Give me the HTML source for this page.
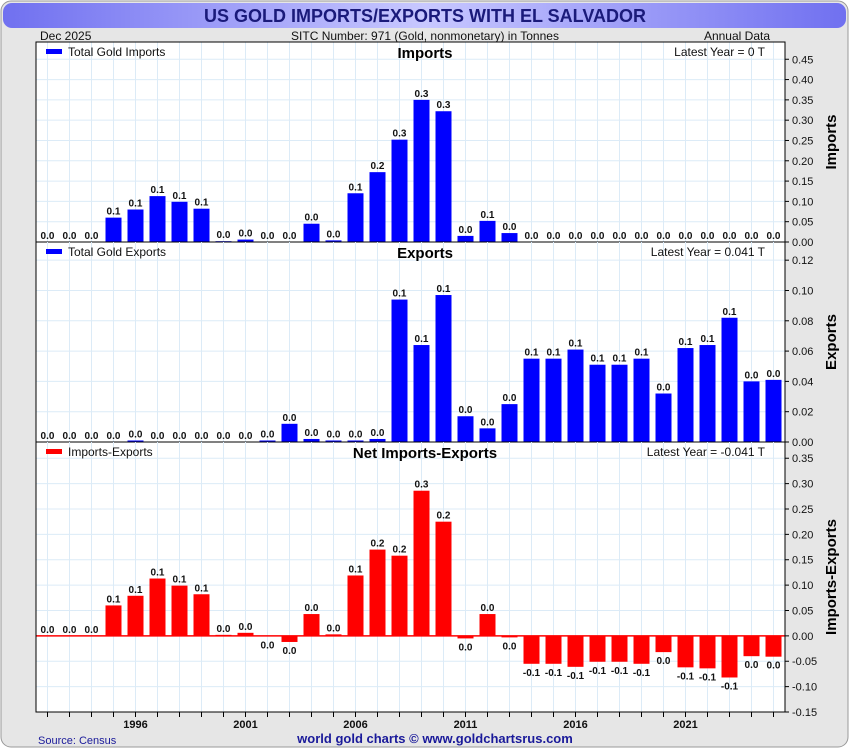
<!DOCTYPE html>
<html><head><meta charset="utf-8"><style>
body{margin:0;width:850px;height:750px;overflow:hidden;background:#fff;font-family:"Liberation Sans",sans-serif}
svg{display:block}
</style></head><body>
<svg id="chart" width="850" height="750" xmlns="http://www.w3.org/2000/svg">
<defs><linearGradient id="tg" x1="0" y1="0" x2="1" y2="0">
<stop offset="0" stop-color="#7070f0"/><stop offset="0.5" stop-color="#c8c8ff"/><stop offset="1" stop-color="#7070f0"/></linearGradient></defs>
<rect x="1" y="1" width="847" height="746" rx="10" fill="#e6e6e6" stroke="#999"/>
<rect x="3" y="3" width="843" height="25" rx="9" fill="url(#tg)"/>
<text x="425" y="22" text-anchor="middle" font-size="18" font-weight="bold" fill="#1a1a7a">US GOLD IMPORTS/EXPORTS WITH EL SALVADOR</text>
<text x="40" y="40" font-size="12" fill="#111">Dec  2025</text>
<text x="425" y="40" text-anchor="middle" font-size="12" fill="#111">SITC Number: 971 (Gold, nonmonetary) in Tonnes</text>
<text x="770" y="40" text-anchor="end" font-size="12" fill="#111">Annual Data</text>
<rect x="36" y="42" width="749" height="670" fill="#fff"/>
<g id="g"></g>
<text x="38" y="744" font-size="11" fill="#1a1a9a">Source: Census</text>
<text x="435" y="743" text-anchor="middle" font-size="13" font-weight="bold" fill="#1a1a9a">world gold charts © www.goldchartsrus.com</text>
</svg>
<script>
const years=[1992,1993,1994,1995,1996,1997,1998,1999,2000,2001,2002,2003,2004,2005,2006,2007,2008,2009,2010,2011,2012,2013,2014,2015,2016,2017,2018,2019,2020,2021,2022,2023,2024,2025];
const imports=[0,0,0,0.06,0.08,0.113,0.099,0.082,0.002,0.006,0,0,0.045,0.004,0.12,0.172,0.252,0.35,0.322,0.015,0.052,0.022,0,0,0,0,0,0,0,0,0,0,0,0];
const exports=[0,0,0,0,0.001,0,0,0,0,0,0.001,0.012,0.002,0.001,0.001,0.002,0.094,0.064,0.097,0.017,0.009,0.025,0.055,0.055,0.061,0.051,0.051,0.055,0.032,0.062,0.064,0.082,0.040,0.041];
const net=[0,0,0,0.06,0.079,0.113,0.099,0.082,0.002,0.006,-0.001,-0.012,0.043,0.003,0.119,0.170,0.158,0.286,0.225,-0.005,0.043,-0.003,-0.055,-0.055,-0.061,-0.051,-0.051,-0.055,-0.032,-0.062,-0.064,-0.082,-0.040,-0.041];
const importTicks=[0,0.05,0.1,0.15,0.2,0.25,0.3,0.35,0.4,0.45];
const exportTicks=[0,0.02,0.04,0.06,0.08,0.1,0.12];
const netTicks=[-0.15,-0.1,-0.05,0,0.05,0.1,0.15,0.2,0.25,0.3,0.35];
const yearLabels=[1996,2001,2006,2011,2016,2021];

const NS="http://www.w3.org/2000/svg",g=document.getElementById('g');
const L=36,R=785;
const x=yr=>47.5+(yr-1992)*22;
function mk(t,a,txt){const e=document.createElementNS(NS,t);for(const k in a)e.setAttribute(k,a[k]);if(txt!==undefined)e.textContent=txt;g.appendChild(e);return e;}
const panels=[
 {key:'imports',data:imports,ticks:importTicks,top:42,bot:242,min:0,max:0.4925,color:'#0000ff',legend:'Total Gold Imports',title:'Imports',latest:'Latest Year = 0 T',axis:'Imports',dec:2},
 {key:'exports',data:exports,ticks:exportTicks,top:242,bot:442,min:0,max:0.132,color:'#0000ff',legend:'Total Gold Exports',title:'Exports',latest:'Latest Year = 0.041 T',axis:'Exports',dec:2},
 {key:'net',data:net,ticks:netTicks,top:442,bot:712,min:-0.15,max:0.382,color:'#ff0000',legend:'Imports-Exports',title:'Net Imports-Exports',latest:'Latest Year = -0.041 T',axis:'Imports-Exports',dec:2}
];
panels.forEach(p=>{
 const y=v=>p.bot-(v-p.min)/(p.max-p.min)*(p.bot-p.top);
 years.forEach(yr=>{let e=mk('line',{x1:x(yr),x2:x(yr),y1:p.top,y2:p.bot,stroke:'#dcebf7','stroke-width':1});
  });
 p.ticks.forEach(t=>{let e=mk('line',{x1:L,x2:R,y1:y(t),y2:y(t),stroke:'#dcebf7','stroke-width':1});
  
  let k=mk('line',{x1:R,x2:R+4,y1:y(t),y2:y(t),stroke:'#000'});
  
  let l=mk('text',{x:R+7,y:y(t)+4,'font-size':11,fill:'#111'},t.toFixed(2));
  });
 p.data.forEach((v,i)=>{
  const y0=y(0),y1=y(v),xx=x(years[i]);
  let b=mk('rect',{x:xx-8,y:Math.min(y0,y1),width:16,height:Math.max(Math.abs(y1-y0),0.5),fill:p.color});
  
  let s=v.toFixed(1);if(s==='-0.0')s='0.0';
  let ty=v<0?y1+12:y1-3;
  let t=mk('text',{x:xx,y:ty,'text-anchor':'middle','font-size':10,'font-weight':'bold',fill:'#111'},s);
  });
 if(p.min<0){let z=mk('line',{x1:L,x2:R,y1:y(0),y2:y(0),stroke:'#ff0000','stroke-width':1.5});
  }
 let lg=mk('rect',{x:46,y:p.top+7,width:16,height:5,fill:p.color});
 
 let lt=mk('text',{x:68,y:p.top+14,'font-size':12,fill:'#111'},p.legend);
 
 let pt=mk('text',{x:425,y:p.top+16,'text-anchor':'middle','font-size':15,'font-weight':'bold',fill:'#000'},p.title);
 
 let la=mk('text',{x:765,y:p.top+14,'text-anchor':'end','font-size':12,fill:'#111'},p.latest);
 
 const cy=(p.top+p.bot)/2;
 let at=mk('text',{x:836,y:cy,'text-anchor':'middle','font-size':15,'font-weight':'bold',fill:'#000',transform:`rotate(-90 836 ${cy})`},p.axis);
 
 let bl=mk('line',{x1:L,x2:R,y1:p.bot,y2:p.bot,stroke:'#000'});
 
});
let fr=mk('rect',{x:L,y:42,width:R-L,height:670,fill:'none',stroke:'#000'});

years.forEach(yr=>{let t=mk('line',{x1:x(yr),x2:x(yr),y1:712,y2:717,stroke:'#000'});
 });
yearLabels.forEach(yr=>{let t=mk('text',{x:x(yr),y:728,'text-anchor':'middle','font-size':11,'font-weight':'bold',fill:'#111'},String(yr));
 });
</script>
</body></html>
